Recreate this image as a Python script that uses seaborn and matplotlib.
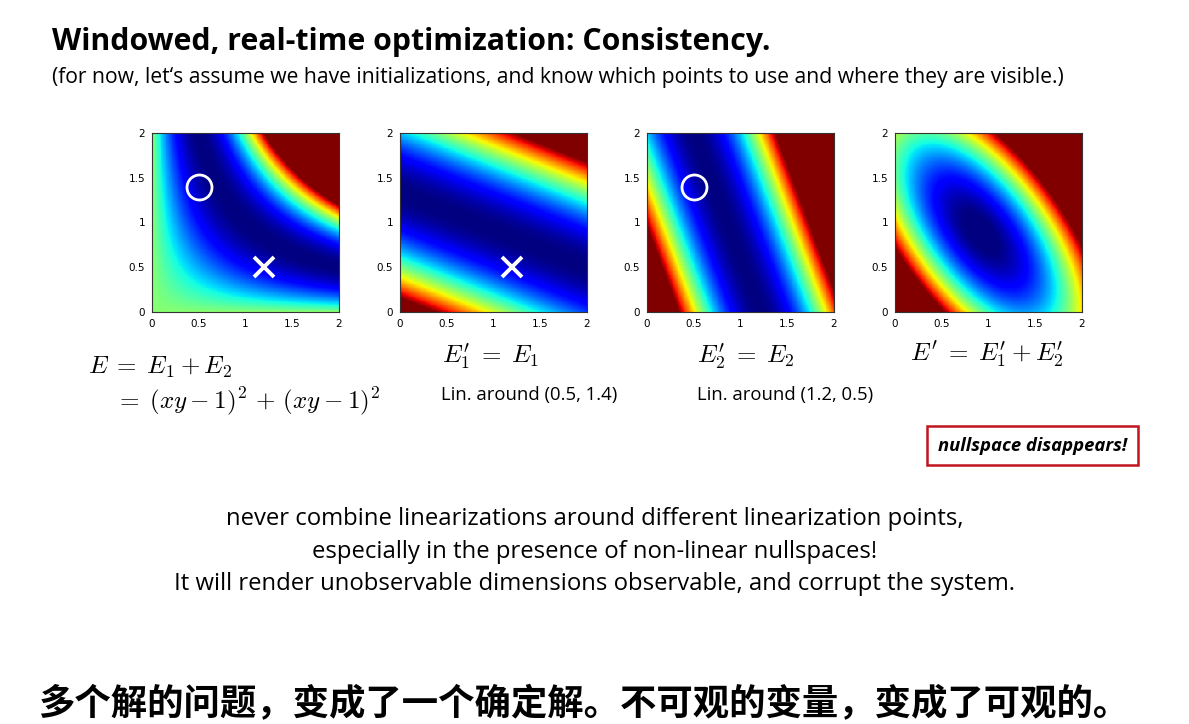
import numpy as np
import pandas as pd
import matplotlib
matplotlib.use("Agg")
import matplotlib.pyplot as plt
import seaborn as sns
from matplotlib.patches import Rectangle

sns.set_theme(style="white")
plt.rcParams["font.family"] = ["DejaVu Sans"]
plt.rcParams["mathtext.fontset"] = "cm"
plt.rcParams["text.color"] = "black"

W, H = 1189, 724

# ---------------- data ----------------
axis_min, axis_max = 0.0, 2.0
n_cells = 220
tick_values = [0, 0.5, 1, 1.5, 2]
tick_labels = ["0", "0.5", "1", "1.5", "2"]
circle_point = [0.5, 1.4]      # linearisation point shown as circle
cross_point = [1.2, 0.5]       # linearisation point shown as cross
panel_vmax = [3.9, 2.0, 1.5, 1.0]

# combined energy E' : colour levels (x, y, level / vmax)
comb_x = [0.0, 0.7, 1.84, 0.78, 2.0, 2.0, 2.0,
          0.0, 0.51, 1.01, 2.0,
          0.0, 0.88, 1.67, 0.25, 0.0, 0.0,
          0.0, 0.6, 0.94, 2.0,
          0.9, 1.3]
comb_y = [1.1, 0.0, 0.0, 2.0, 0.47, 0.25, 0.0,
          0.92, 0.0, 2.0, 0.8,
          1.28, 0.0, 0.0, 2.0, 1.6, 2.0,
          0.99, 0.0, 2.0, 0.66,
          0.92, 0.0]
comb_level = [0.65, 0.65, 0.65, 0.65, 0.65, 0.68, 0.8,
              1.0, 1.0, 1.0, 1.0,
              0.375, 0.375, 0.375, 0.38, 0.38, 0.55,
              0.875, 0.875, 0.875, 0.875,
              0.04, 0.3]

title = "Windowed, real-time optimization: Consistency."
subtitle = ("(for now, let\u2018s assume we have initializations, and know which points "
            "to use and where they are visible.)")
formula_labels = [r"$E \;=\; E_1 + E_2$", r"$=\; (xy-1)^2 \,+\, (xy-1)^2$",
                  r"$E_1' \;=\; E_1$", r"$E_2' \;=\; E_2$", r"$E' \;=\; E_1' + E_2'$"]
lin_labels = ["Lin. around (0.5, 1.4)", "Lin. around (1.2, 0.5)"]
box_label = "nullspace disappears!"
message_lines = ["never combine linearizations around different linearization points,",
                 "especially in the presence of non-linear nullspaces!",
                 "It will render unobservable dimensions observable, and corrupt the system."]
chinese_note = "多个解的问题，变成了一个确定解。不可观的变量，变成了可观的。"

# ---------------- surfaces ----------------
g = np.linspace(axis_min, axis_max, n_cells)
X, Y = np.meshgrid(g, g)


def residual_lin(p):
    x0, y0 = p
    return (x0 * y0 - 1) + y0 * (X - x0) + x0 * (Y - y0)


def quad_terms(x, y):
    x = np.asarray(x, float)
    y = np.asarray(y, float)
    return np.stack([x * x, x * y, y * y, x, y, np.ones_like(x)], axis=-1)


E_full = (X * Y - 1) ** 2 + (X * Y - 1) ** 2
E1_lin = residual_lin(cross_point) ** 2
E2_lin = residual_lin(circle_point) ** 2
coef, *_ = np.linalg.lstsq(quad_terms(comb_x, comb_y), np.asarray(comb_level), rcond=None)
E_comb = quad_terms(X, Y) @ coef
surfaces = [E_full, E1_lin, E2_lin, E_comb]

# ---------------- figure ----------------
fig = plt.figure(figsize=(W / 100, H / 100), dpi=100)
fig.patch.set_facecolor("white")


def px_axes(l, t, w, h):
    return fig.add_axes([l / W, 1 - (t + h) / H, w / W, h / H])


def to_cell(v):
    return (v - axis_min) / (axis_max - axis_min) * n_cells


panel_left = [152, 400, 647, 895]
markers = [[("o", circle_point), ("x", cross_point)], [("x", cross_point)],
           [("o", circle_point)], []]

for i, (left, Z) in enumerate(zip(panel_left, surfaces)):
    ax = px_axes(left, 133, 187, 179)
    sns.heatmap(pd.DataFrame(Z), ax=ax, cmap="jet", vmin=0, vmax=panel_vmax[i],
                cbar=False, xticklabels=False, yticklabels=False, rasterized=True)
    ax.invert_yaxis()
    ax.set_xlim(0, n_cells)
    ax.set_ylim(0, n_cells)
    ax.set_xticks([to_cell(t) for t in tick_values])
    ax.set_xticklabels(tick_labels)
    ax.set_yticks([to_cell(t) for t in tick_values])
    ax.set_yticklabels(tick_labels, rotation=0)
    ax.tick_params(direction="in", length=3, width=0.6, labelsize=7.5, pad=5,
                   bottom=True, left=True, top=True, right=True, colors="black")
    for s in ax.spines.values():
        s.set_visible(True)
        s.set_color("#333333")
        s.set_linewidth(0.8)
    ax.set_xlabel("")
    ax.set_ylabel("")
    for m, p in markers[i]:
        if m == "o":
            ax.plot(to_cell(p[0]), to_cell(p[1]), marker="o", ms=18, mfc="none",
                    mec="white", mew=2)
        else:
            ax.plot(to_cell(p[0]), to_cell(p[1]), marker="x", ms=14, mec="white",
                    mew=2.8)


def ftext(x, y, s, **kw):
    fig.text(x / W, 1 - y / H, s, **kw)


ftext(52, 42, title, fontsize=21.8, fontweight="bold", family="Open Sans",
      ha="left", va="center")
ftext(52, 77, subtitle, fontsize=15.2, family="Open Sans", ha="left", va="center")

ftext(88, 367, formula_labels[0], fontsize=18, ha="left", va="center")
ftext(115, 401, formula_labels[1], fontsize=18, ha="left", va="center")
ftext(442, 357, formula_labels[2], fontsize=18, ha="left", va="center")
ftext(697, 357, formula_labels[3], fontsize=18, ha="left", va="center")
ftext(910, 355, formula_labels[4], fontsize=18, ha="left", va="center")
ftext(441, 395, lin_labels[0], fontsize=13.3, family="Open Sans", ha="left", va="center")
ftext(697, 395, lin_labels[1], fontsize=13.3, family="Open Sans", ha="left", va="center")

box = Rectangle((927 / W, 1 - 465 / H), (1138 - 927) / W, 39 / H,
                transform=fig.transFigure, fill=False, edgecolor="#c0141e", lw=1.8)
fig.patches.append(box)
ftext(1033, 446, box_label, fontsize=13.3, fontweight="bold", fontstyle="italic",
      family="Open Sans", ha="center", va="center")

for k, line in enumerate(message_lines):
    ftext(595, 519 + 32.5 * k, line, fontsize=17.2, family="Open Sans",
          ha="center", va="center")

ftext(38, 705, chinese_note, fontsize=26.2, fontweight="bold",
      family=["Noto Sans CJK SC", "DejaVu Sans"], ha="left", va="center")

fig.savefig("out.png", dpi=100, facecolor="white")
